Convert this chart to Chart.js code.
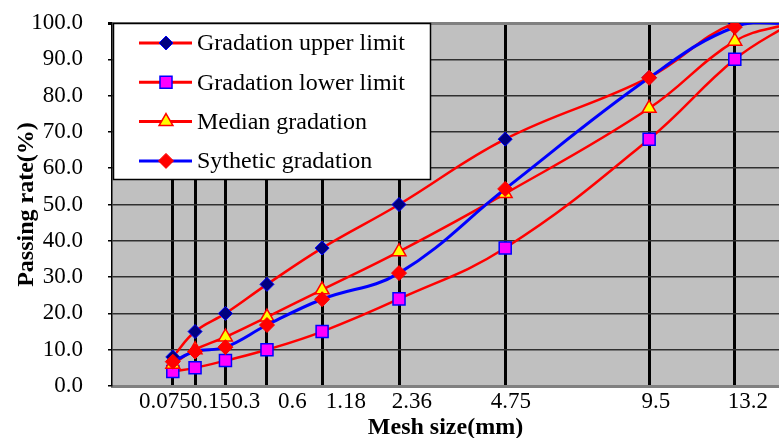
<!DOCTYPE html>
<html>
<head>
<meta charset="utf-8">
<script src="https://cdn.jsdelivr.net/npm/chart.js@4/dist/chart.umd.min.js"></script>
<style>
html,body{margin:0;padding:0;background:#fff;}
#wrap{width:779px;height:438px;position:relative;overflow:hidden;}
</style>
</head>
<body>
<div id="wrap"><canvas id="c" width="779" height="438"></canvas></div>
<script>
// ---- data ----
const meshSizes     = [0.075, 0.15, 0.3, 0.6, 1.18, 2.36, 4.75, 9.5, 13.2, 16];
const upperLimit    = [8, 15, 20, 28, 38, 50, 68, 85, 100, 100];
const lowerLimit    = [4, 5, 7, 10, 15, 24, 38, 68, 90, 100];
const medianGrad    = [6, 10, 13.5, 19, 26.5, 37, 53, 76.5, 95, 100];
const syntheticGrad = [6.7, 9.5, 10.7, 16.8, 23.9, 31.1, 54.3, 84.9, 98.9, 100];
const tickValues    = [0.075, 0.15, 0.3, 0.6, 1.18, 2.36, 4.75, 9.5, 13.2];
const tickLabels    = ['0.075', '0.15', '0.3', '0.6', '1.18', '2.36', '4.75', '9.5', '13.2'];
const seriesNames   = ['Gradation upper limit', 'Gradation lower limit', 'Median gradation', 'Sythetic gradation'];

// ---- layout ----
const EXP = 0.45;                       // gradation chart abscissa: d^0.45
const tx = d => Math.pow(d, EXP);
const X_MAX = 3.42;
// label centre positions along the axis (in d^0.45 units), as placed in the original
const tickLabelCenters = [0.271, 0.507, 0.686, 0.925, 1.199, 1.537, 2.045, 2.789, 3.261];
const FONT = "'Liberation Serif', 'Times New Roman', serif";

const pts = arr => arr.map((v, i) => ({x: tx(meshSizes[i]), y: v}));

const styles = [
  {line:'#FF0000', lw:2.5, ps:'rectRot', r:7,   bg:'#000080', bc:'#0000FF', bw:1,   order:4},
  {line:'#FF0000', lw:2.5, ps:'rect',    r:8.5, bg:'#FF00FF', bc:'#0000FF', bw:1.5, order:3},
  {line:'#FF0000', lw:2.5, ps:'triangle',r:8,   bg:'#FFFF00', bc:'#FF0000', bw:1.5, order:2},
  {line:'#0000FF', lw:3,   ps:'rectRot', r:7.5, bg:'#FF0000', bc:'#FF0000', bw:1,   order:1}
];
const series = [upperLimit, lowerLimit, medianGrad, syntheticGrad];

const datasets = series.map((s, i) => ({
  label: seriesNames[i],
  data: pts(s),
  borderColor: styles[i].line,
  borderWidth: styles[i].lw,
  tension: 0.4,
  pointStyle: styles[i].ps,
  pointRadius: styles[i].r,
  pointHoverRadius: styles[i].r,
  pointBackgroundColor: styles[i].bg,
  pointBorderColor: styles[i].bc,
  pointBorderWidth: styles[i].bw,
  order: styles[i].order,
  fill: false
}));

const noPad = a => { a.paddingLeft = 0; a.paddingRight = 0; a.paddingTop = 0; a.paddingBottom = 0; };

const bgPlugin = {
  id: 'plotBg',
  beforeDraw(chart) {
    const {ctx, chartArea: a} = chart;
    ctx.save();
    ctx.fillStyle = '#C0C0C0';
    ctx.fillRect(a.left, a.top, a.right - a.left, a.bottom - a.top);
    ctx.restore();
  }
};

const legendPlugin = {
  id: 'boxLegend',
  afterDraw(chart) {
    const ctx = chart.ctx;
    const bx = 113, by = 23, bw = 317, bh = 156;
    ctx.save();
    ctx.fillStyle = '#FFFFFF';
    ctx.fillRect(bx, by, bw, bh);
    ctx.strokeStyle = '#000000';
    ctx.lineWidth = 1.5;
    ctx.strokeRect(bx + 0.5, by + 0.5, bw, bh);
    seriesNames.forEach((name, i) => {
      const y = 43 + i * 39.3;
      const st = styles[i];
      ctx.strokeStyle = st.line;
      ctx.lineWidth = 3;
      ctx.beginPath();
      ctx.moveTo(139, y);
      ctx.lineTo(192, y);
      ctx.stroke();
      ctx.fillStyle = st.bg;
      ctx.strokeStyle = st.bc;
      ctx.lineWidth = st.bw;
      Chart.helpers.drawPoint(ctx, {pointStyle: st.ps, radius: st.r, rotation: 0, borderWidth: st.bw}, 166, y);
      ctx.fillStyle = '#000';
      ctx.font = '24px ' + FONT;
      ctx.textBaseline = 'middle';
      ctx.textAlign = 'left';
      ctx.fillText(name, 197, y + 1);
    });
    ctx.restore();
  }
};

new Chart(document.getElementById('c'), {
  type: 'line',
  data: {datasets},
  plugins: [bgPlugin, legendPlugin],
  options: {
    responsive: false,
    devicePixelRatio: 1,
    animation: false,
    layout: {autoPadding: false, padding: {top: 23, left: 0, right: 0, bottom: 0}},
    plugins: {legend: {display: false}, tooltip: {enabled: false}},
    scales: {
      x: {
        type: 'linear', position: 'bottom', min: 0, max: X_MAX, weight: 0,
        afterBuildTicks: a => { a.ticks = tickValues.map(v => ({value: tx(v)})); },
        afterFit: a => { a.height = 0; noPad(a); },
        ticks: {display: false},
        grid: {color: '#000000', lineWidth: 3, drawTicks: false},
        border: {display: true, color: '#808080', width: 3}
      },
      xl: {
        type: 'linear', position: 'bottom', min: 0, max: X_MAX, weight: 1,
        afterBuildTicks: a => { a.ticks = tickLabelCenters.map(v => ({value: v})); },
        afterFit: a => { a.height = 52; noPad(a); },
        grid: {display: false, drawTicks: false},
        border: {display: false},
        ticks: {
          autoSkip: false, maxRotation: 0, minRotation: 0, padding: 2,
          color: '#000', font: {family: FONT, size: 23},
          callback: (v, i) => tickLabels[i]
        },
        title: {display: true, text: 'Mesh size(mm)', color: '#000',
                font: {family: FONT, size: 24, weight: 'bold', lineHeight: 0.85}, padding: {top: 0, bottom: 0}}
      },
      y: {
        min: 0, max: 100,
        afterFit: a => { a.width = 112; noPad(a); },
        ticks: {stepSize: 10, padding: 25, color: '#000', font: {family: FONT, size: 23},
                callback: v => Number(v).toFixed(1)},
        grid: {
          color: c => (c.tick && c.tick.value === 100) ? '#808080' : '#303030',
          lineWidth: c => (c.tick && c.tick.value === 100) ? 3 : 1.5,
          tickLength: 4, tickColor: '#000'
        },
        border: {color: '#000', width: 1.5},
        title: {display: true, text: 'Passing rate(%)', color: '#000',
                font: {family: FONT, size: 24, weight: 'bold'}, padding: {top: 12, bottom: 0}}
      }
    }
  }
});
</script>
</body>
</html>
